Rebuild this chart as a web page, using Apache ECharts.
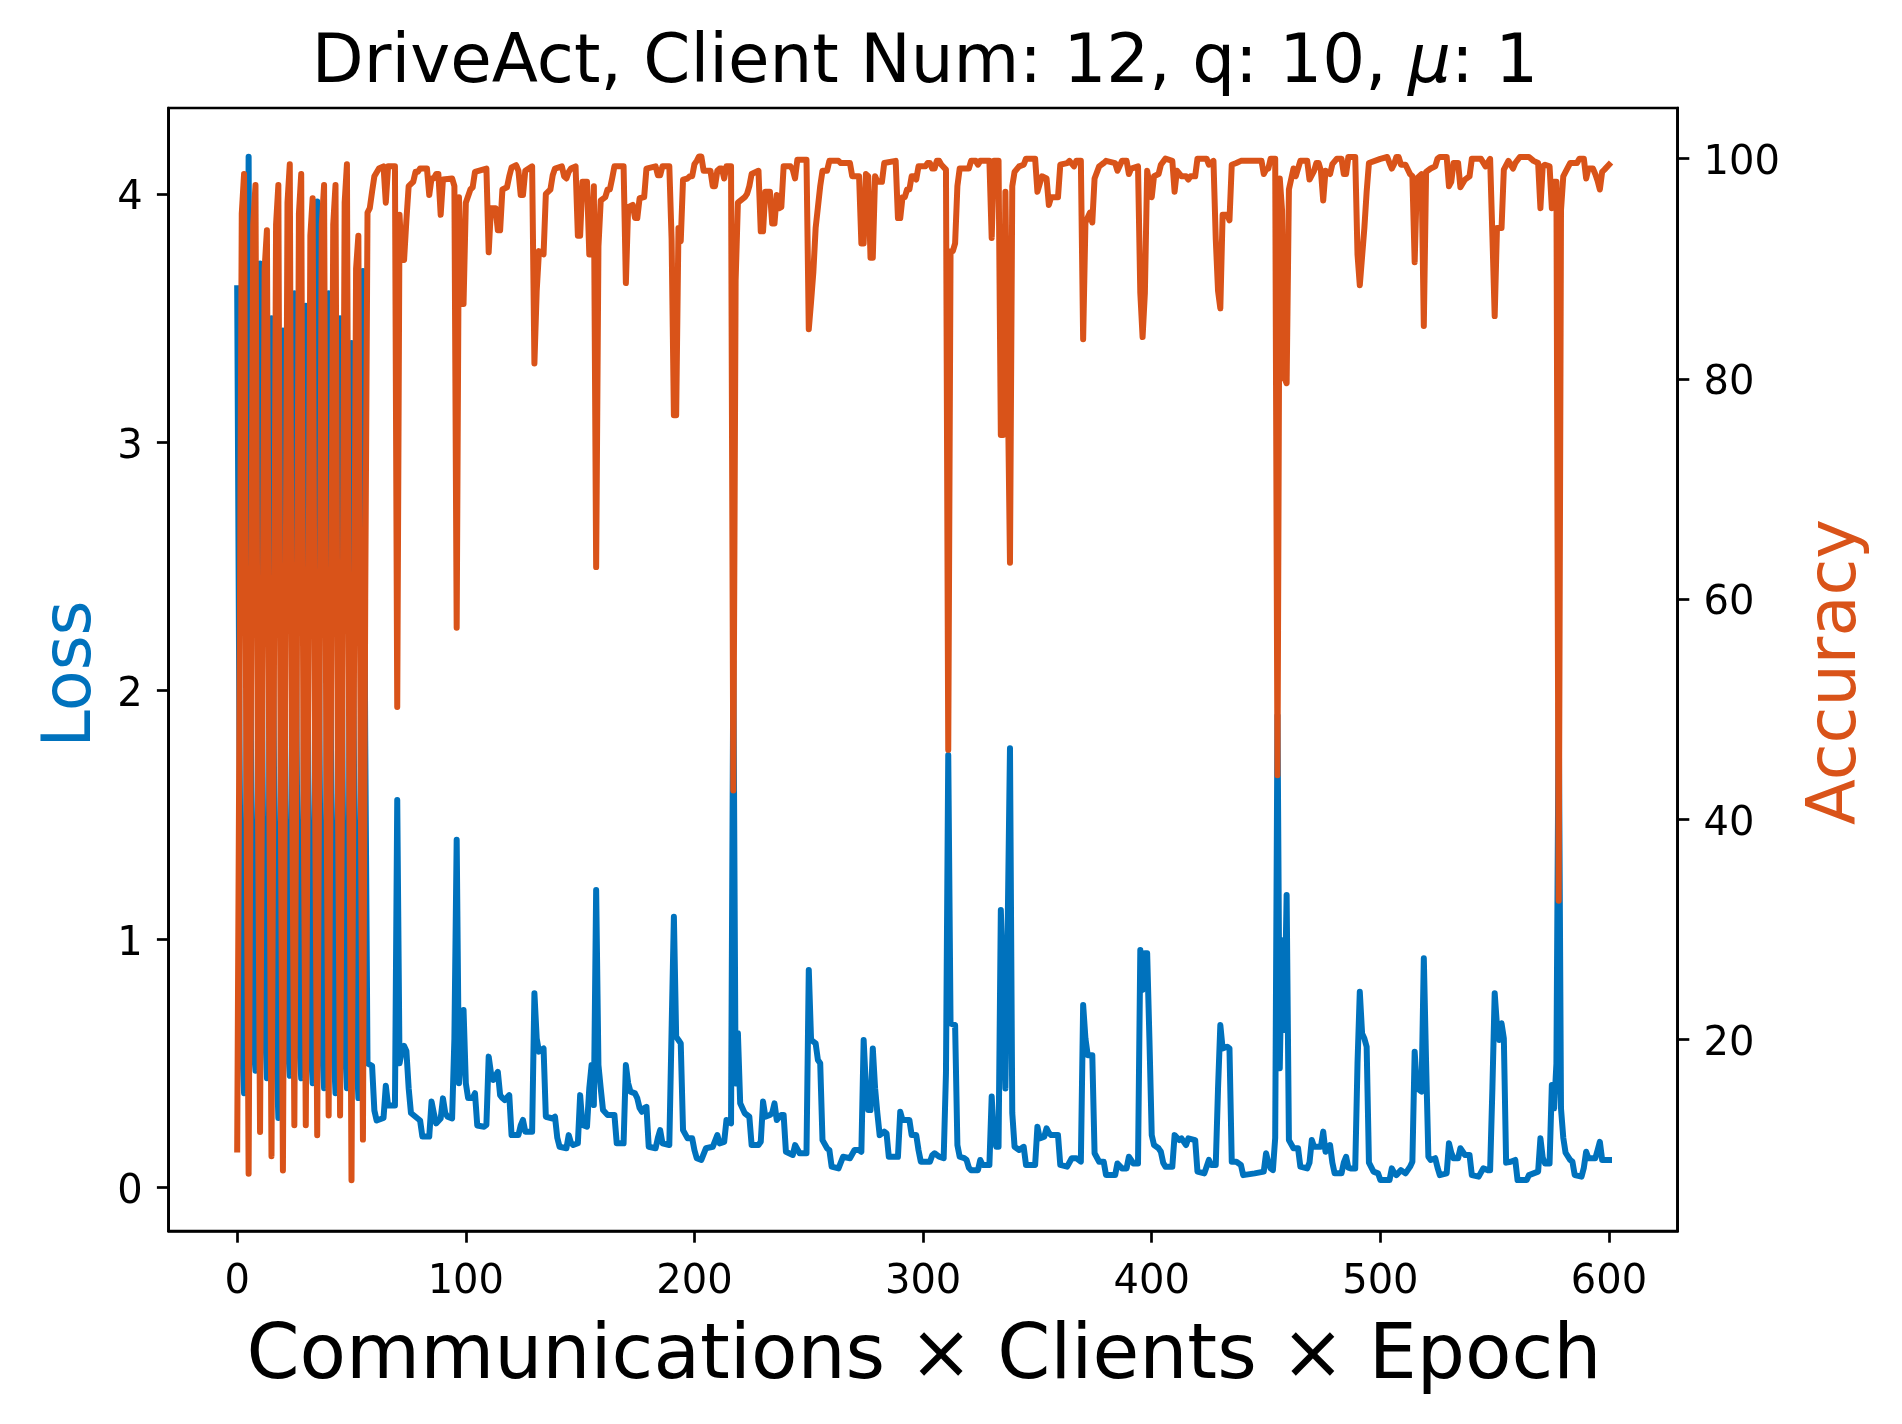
<!DOCTYPE html>
<html>
<head>
<meta charset="utf-8">
<script src="https://cdn.jsdelivr.net/npm/echarts@6/dist/echarts.min.js"></script>
<style>html,body{margin:0;padding:0;background:#fff}#c{width:1902px;height:1424px}</style>
</head>
<body>
<div id="c"></div>
<script>
// ---- data ----
const titleText = 'DriveAct, Client Num: 12, q: 10, {mu|μ}: 1';
const xName = 'Communications × Clients × Epoch';
const lossName = 'Loss';
const accName = 'Accuracy';
const xTicks = [0, 100, 200, 300, 400, 500, 600];
const lossTicks = [0, 1, 2, 3, 4];
const accTicks = [20, 40, 60, 80, 100];

// [step, loss]
const lossReadings = [
[0,3.62],[1,1.8],[2,0.6],[3,0.38],[4,1.6],
[5,4.15],[6,1.8],[7,0.6],[8,0.47],[9,1.6],
[10,3.72],[11,1.8],[12,0.7],[13,0.44],[14,1.6],
[15,3.5],[16,1.8],[17,0.6],[18,0.28],[19,1.6],
[20,3.45],[21,1.8],[22,0.6],[23,0.45],[24,1.6],
[25,3.6],[26,1.8],[27,0.6],[28,0.44],[29,1.6],
[30,3.55],[31,1.8],[32,0.6],[33,0.42],[34,1.6],
[35,3.97],[36,1.8],[37,0.6],[38,0.40],[39,1.6],
[40,3.6],[41,1.8],[42,0.6],[43,0.38],[44,1.6],
[45,3.5],[46,1.8],[47,0.6],[48,0.40],[49,1.6],
[50,3.4],[51,1.8],[52,0.6],[53,0.36],[54,1.6],
[55,3.69],[56,1.8],[57,0.50],[59,0.49],[60,0.31],[61,0.27],[64,0.28],[65,0.41],[66,0.33],[69,0.33],
[70,1.56],[71,0.50],[72,0.55],[73,0.57],[74,0.55],[75,0.40],[76,0.30],[78,0.285],[80,0.27],[81,0.205],
[84,0.205],[85,0.346],[86,0.30],[87,0.258],[89,0.278],[90,0.359],[91,0.30],[92,0.285],[94,0.278],[95,0.6],
[96,1.40],[97,0.42],[98,0.55],[99,0.715],[100,0.42],[101,0.36],[103,0.36],[104,0.38],[105,0.25],[108,0.245],
[109,0.252],[110,0.527],[111,0.46],[112,0.433],[113,0.45],[114,0.466],[115,0.372],[116,0.36],[117,0.352],[119,0.372],
[120,0.211],[123,0.211],[124,0.25],[125,0.272],[126,0.225],[129,0.225],[130,0.782],[131,0.60],[132,0.547],[134,0.56],
[135,0.285],[138,0.278],[139,0.285],[140,0.2],[141,0.164],[144,0.158],[145,0.211],[146,0.18],[147,0.171],[149,0.178],
[150,0.372],[151,0.252],[153,0.245],[154,0.40],[155,0.493],[156,0.332],[157,1.198],[158,0.493],[159,0.40],[160,0.312],
[162,0.292],[165,0.292],[166,0.178],[169,0.178],[170,0.493],[171,0.42],[172,0.386],[174,0.379],[175,0.359],[176,0.32],
[177,0.305],[178,0.32],[179,0.325],[180,0.164],[183,0.158],[184,0.2],[185,0.231],[186,0.178],[189,0.171],[190,0.634],
[191,1.090],[192,0.607],[193,0.594],[194,0.580],[195,0.231],[197,0.198],[199,0.198],[200,0.15],[201,0.118],[203,0.111],
[205,0.158],[208,0.164],[210,0.211],[211,0.178],[213,0.184],[214,0.272],[216,0.258],[217,2.12],[218,0.419],[219,0.621],
[220,0.339],[222,0.299],[224,0.285],[225,0.171],[228,0.171],[229,0.184],[230,0.346],[231,0.285],[233,0.292],[234,0.3],
[235,0.339],[236,0.272],[238,0.292],[239,0.292],[240,0.144],[243,0.131],[244,0.171],[246,0.138],[249,0.138],[250,0.876],
[251,0.594],[253,0.580],[254,0.513],[255,0.500],[256,0.191],[258,0.158],[259,0.151],[260,0.084],[263,0.077],[265,0.124],
[268,0.118],[270,0.151],[272,0.151],[273,0.144],[274,0.594],[275,0.4],[276,0.312],[277,0.312],[278,0.560],[279,0.4],
[280,0.299],[281,0.211],[283,0.225],[284,0.218],[285,0.124],[289,0.124],[290,0.305],[291,0.272],[294,0.272],[295,0.211],
[297,0.211],[298,0.15],[299,0.104],[303,0.104],[304,0.13],[305,0.138],[307,0.124],[309,0.118],[310,0.460],[311,1.741],
[312,0.661],[314,0.654],[315,0.171],[316,0.124],[318,0.118],[319,0.111],[320,0.08],[321,0.070],[324,0.070],[325,0.111],
[326,0.091],[329,0.091],[330,0.366],[331,0.2],[332,0.164],[333,0.164],[334,1.117],[335,0.8],[336,0.399],[337,1.05],
[338,1.768],[339,0.3],[340,0.164],[342,0.151],[344,0.164],[345,0.091],[349,0.091],[350,0.245],[351,0.198],[353,0.205],
[354,0.238],[355,0.22],[356,0.211],[359,0.211],[360,0.091],[363,0.084],[365,0.118],[367,0.118],[369,0.104],[370,0.735],
[371,0.6],[372,0.533],[374,0.533],[375,0.138],[377,0.104],[379,0.104],[380,0.050],[384,0.050],[385,0.097],[387,0.077],
[389,0.077],[390,0.124],[392,0.097],[394,0.097],[395,0.956],[396,0.795],[397,0.943],[398,0.943],[399,0.594],[400,0.211],
[401,0.171],[403,0.158],[404,0.144],[405,0.1],[406,0.084],[409,0.084],[410,0.211],[412,0.191],[413,0.198],[415,0.171],
[416,0.198],[419,0.191],[420,0.064],[423,0.057],[425,0.111],[426,0.091],[428,0.091],[429,0.4],[430,0.654],[431,0.560],
[433,0.567],[434,0.56],[435,0.104],[437,0.104],[439,0.091],[440,0.050],[445,0.057],[449,0.064],[450,0.138],[451,0.1],
[452,0.077],[453,0.07],[454,0.2],[455,1.9],[456,0.48],[457,0.996],[458,0.634],[459,1.178],[460,0.191],[462,0.158],
[464,0.158],[465,0.084],[468,0.077],[469,0.1],[470,0.191],[471,0.164],[474,0.164],[475,0.225],[476,0.144],[478,0.171],
[479,0.1],[480,0.057],[483,0.057],[484,0.1],[485,0.124],[486,0.08],[487,0.077],[489,0.077],[490,0.5],[491,0.788],
[492,0.62],[493,0.6],[494,0.567],[495,0.1],[497,0.064],[499,0.057],[500,0.030],[504,0.030],[505,0.077],[506,0.06],
[507,0.050],[509,0.070],[511,0.057],[513,0.084],[514,0.104],[515,0.547],[516,0.40],[518,0.386],[519,0.923],[520,0.5],
[521,0.124],[522,0.111],[524,0.118],[525,0.08],[526,0.050],[529,0.057],[530,0.178],[531,0.14],[532,0.118],[534,0.118],
[535,0.158],[537,0.131],[539,0.131],[540,0.050],[543,0.044],[545,0.077],[547,0.070],[548,0.070],[549,0.4],[550,0.782],
[551,0.65],[552,0.594],[553,0.661],[554,0.6],[555,0.10],[557,0.104],[559,0.111],[560,0.030],[564,0.030],[565,0.050],
[567,0.057],[569,0.064],[570,0.198],[571,0.12],[572,0.097],[574,0.097],[575,0.413],[576,0.319],[577,0.5],[578,1.95],
[579,0.318],[580,0.2],[581,0.14],[583,0.111],[584,0.104],[585,0.05],[588,0.044],[589,0.08],[590,0.144],[591,0.118],
[594,0.118],[595,0.15],[596,0.184],[597,0.111],[600,0.111]
];

// [step, accuracy]
const accuracyReadings = [
[0,10.0],[1,50],[2,95],[3,98.6],[4,45],
[5,7.8],[6,50],[7,94],[8,97.6],[9,45],
[10,11.6],[11,50],[12,90],[13,93.5],[14,45],
[15,9.4],[16,50],[17,94],[18,97.6],[19,45],
[20,8.1],[21,50],[22,96],[23,99.5],[24,45],
[25,12.2],[26,50],[27,95],[28,98.6],[29,45],
[30,12.2],[31,50],[32,93],[33,96.4],[34,45],
[35,11.3],[36,50],[37,94],[38,97.6],[39,45],
[40,13.1],[41,50],[42,94],[43,97.6],[44,45],
[45,13.1],[46,50],[47,96],[48,99.5],[49,45],
[50,7.2],[51,50],[52,90],[53,93.0],[54,45],
[55,10.9],[56,60],[57,95.1],[58,95.5],[59,97],[60,98.4],[62,99.1],[64,99.3],[65,96.0],[66,99.3],
[69,99.3],[70,50.2],[71,94.9],[72,90.8],[73,90.8],[74,94.4],[75,97.5],[77,97.9],[78,98.8],[79,98.8],
[80,99.1],[83,99.1],[84,96.7],[85,98.2],[86,98.2],[87,98.6],[88,98.6],[89,94.9],[90,98.1],[94,98.2],
[95,97.5],[96,57.4],[97,96.5],[98,86.8],[99,86.8],[100,96.0],[102,97.2],[103,97.4],[104,98.8],[109,99.1],
[110,91.5],[111,95.5],[113,95.5],[114,93.5],[115,93.5],[116,97.2],[118,97.4],[119,98.4],[120,99.2],[122,99.4],
[123,98.9],[124,96.7],[125,96.7],[126,98.9],[129,99.3],[130,81.4],[131,88],[132,91.6],[134,91.3],[135,96.8],
[137,97.2],[138,98.5],[139,99.1],[142,99.3],[143,98.4],[144,98.2],[145,98.8],[146,99.1],[148,99.3],[149,93.0],
[150,93.0],[151,97.9],[153,97.9],[154,91.3],[155,91.3],[156,97.5],[157,62.9],[158,92],[159,96.2],[161,96.5],
[162,97.2],[163,97.2],[164,98.2],[165,99.3],[169,99.3],[170,88.7],[171,95.6],[173,95.8],[174,94.6],[175,94.6],
[176,96.4],[178,96.5],[179,99.1],[183,99.3],[184,98.5],[185,98.5],[186,99.3],[189,99.3],[190,92.7],[191,76.7],
[192,76.7],[193,93.7],[194,92.5],[195,98.1],[197,98.2],[198,98.4],[199,98.4],[200,99.5],[201,99.8],[202,100.2],
[203,100.2],[204,98.9],[207,98.9],[208,97.5],[209,97.5],[210,98.9],[211,99.1],[212,99.1],[213,98.2],[214,99.3],
[216,99.3],[217,42.6],[218,88.9],[219,96.0],[222,96.5],[223,96.8],[224,97.5],[225,98.6],[228,98.9],[229,93.4],
[230,93.4],[231,97.0],[233,97.0],[234,94.1],[235,94.1],[236,96.7],[237,95.5],[238,95.6],[239,99.3],[242,99.3],
[243,99.0],[244,98.2],[245,99.9],[249,99.9],[250,84.5],[251,87],[252,89.7],[253,93.7],[254,95.6],[255,97.5],
[256,98.9],[258,98.9],[259,99.8],[263,99.8],[264,99.6],[268,99.6],[269,98.4],[272,98.4],[273,92.3],[274,92.3],
[275,98.6],[276,98.4],[277,91.0],[278,91.0],[279,98.4],[280,97.9],[282,97.9],[283,99.6],[288,99.8],[289,94.6],
[290,94.6],[291,96.5],[292,96.5],[293,97.2],[294,97.2],[295,98.4],[296,98.4],[297,98.1],[298,99.3],[301,99.3],
[302,99.6],[303,99.6],[304,99.1],[305,99.1],[306,99.8],[307,99.8],[308,99.45],[310,99.0],[311,46.3],[312,91.6],
[313,91.6],[314,92.3],[315,97.5],[316,99.1],[320,99.1],[321,99.8],[323,99.8],[324,99.45],[325,99.8],[329,99.8],
[330,92.8],[331,99.8],[333,99.8],[334,74.9],[335,74.9],[336,97.0],[337,80],[338,63.3],[339,97.5],[340,98.8],
[342,99.3],[344,99.45],[345,100.0],[349,100.0],[350,97.0],[351,97.7],[352,98.4],[354,98.2],[355,95.8],[356,96.5],
[359,96.5],[360,99.45],[363,99.6],[364,99.8],[366,99.3],[367,99.8],[369,99.8],[370,83.6],[371,94.2],[373,95.1],
[374,94.2],[375,98.2],[377,99.3],[379,99.6],[380,99.8],[384,99.6],[385,98.9],[387,99.8],[389,99.8],[390,98.6],
[391,99.1],[394,99.3],[395,87.8],[396,83.8],[397,87.8],[398,98.9],[400,96.5],[401,98.4],[403,98.6],[404,99.45],
[406,100.0],[409,99.8],[410,97.0],[411,98.9],[413,98.4],[415,98.4],[416,98.1],[417,98.4],[419,98.4],[420,100.0],
[424,100.0],[425,99.45],[427,99.8],[428,92.7],[429,88],[430,86.4],[431,94.9],[433,94.9],[434,94.4],[435,99.45],
[437,99.6],[439,99.8],[448,99.8],[449,98.6],[450,99.0],[451,99.1],[452,100.0],[454,100.0],[455,44.0],[456,98.2],
[457,95.3],[458,80.1],[459,79.6],[460,97.2],[462,99.1],[463,98.4],[465,99.8],[468,99.8],[469,98.1],[471,98.9],
[472,99.6],[473,99.6],[474,98.9],[475,96.2],[476,98.9],[478,98.6],[479,99.5],[481,100.0],[483,100.0],[484,98.6],
[485,98.6],[486,100.15],[489,100.15],[490,91.3],[491,88.5],[493,93.7],[494,97],[495,99.6],[500,99.98],[503,100.15],
[504,99.6],[505,99.1],[506,99.5],[507,100.15],[508,100.15],[509,99.45],[511,99.45],[513,98.6],[514,98.4],[515,90.6],
[516,98.2],[518,98.6],[519,84.8],[520,98.8],[522,99.1],[524,99.3],[525,100.0],[526,100.15],[529,100.15],[530,97.5],
[531,97.9],[532,99.6],[534,99.6],[535,97.4],[537,98.1],[539,98.4],[540,99.98],[544,99.98],[546,99.3],[548,99.98],
[549,93.0],[550,85.7],[551,93.7],[553,93.7],[554,99.0],[556,99.8],[558,99.1],[559,99.6],[561,100.15],[565,100.15],
[567,99.8],[569,99.6],[570,95.5],[571,99.3],[572,99.45],[574,99.3],[575,95.5],[576,97.9],[577,97.9],[578,32.6],
[579,95.3],[580,98.4],[581,98.8],[583,99.6],[586,99.6],[587,99.98],[589,99.98],[590,98.2],[591,99.1],[593,99.1],
[594,98.6],[595,98.0],[596,97.2],[597,98.8],[598,99.0],[600,99.45]
];

// ---- chart ----
const FONT = 'DejaVu Sans';
const BLUE = '#0072BD';
const ORANGE = '#D95319';
const gL = 168.6, gT = 108, gR = 1677.6, gB = 1231;

const chart = echarts.init(document.getElementById('c'), null, {renderer: 'canvas', width: 1902, height: 1424});

function yAxisCfg(min, max, ticks, pos) {
  return {
    type: 'value', min: min, max: max, position: pos,
    splitLine: {show: false},
    axisLine: {show: true, onZero: false, lineStyle: {color: '#000', width: 2.7}},
    axisTick: {show: true, customValues: ticks, length: 11.7, inside: false, lineStyle: {color: '#000', width: 2.7}},
    axisLabel: {customValues: ticks, fontFamily: FONT, fontSize: 40, color: '#000', margin: 26,
                verticalAlign: 'top', lineHeight: 10}
  };
}

const option = {
  animation: false,
  backgroundColor: '#ffffff',
  grid: {left: gL, top: gT, width: gR - gL, height: gB - gT, show: true,
         borderColor: '#000', borderWidth: 2.7, backgroundColor: 'transparent', containLabel: false},
  xAxis: {
    type: 'value', min: -30, max: 630,
    splitLine: {show: false},
    axisLine: {show: true, onZero: false, lineStyle: {color: '#000', width: 2.7}},
    axisTick: {show: true, customValues: xTicks, length: 11.7, inside: false, lineStyle: {color: '#000', width: 2.7}},
    axisLabel: {customValues: xTicks, fontFamily: FONT, fontSize: 40, color: '#000', margin: 32}
  },
  yAxis: [
    yAxisCfg(-0.175, 4.346, lossTicks, 'left'),
    yAxisCfg(2.6, 104.6, accTicks, 'right')
  ],
  series: [
    {type: 'line', name: lossName, yAxisIndex: 0, data: lossReadings, showSymbol: false, symbol: 'none',
     lineStyle: {color: BLUE, width: 6, join: 'round', cap: 'square'}, z: 2},
    {type: 'line', name: accName, yAxisIndex: 1, data: accuracyReadings, showSymbol: false, symbol: 'none',
     lineStyle: {color: ORANGE, width: 6, join: 'round', cap: 'square'}, z: 3}
  ],
  graphic: [
    {type: 'text', x: 925, y: 64, style: {text: titleText, fontFamily: FONT, fontSize: 67.5, fill: '#000',
      align: 'center', verticalAlign: 'middle',
      rich: {mu: {fontFamily: FONT, fontSize: 67.5, fontStyle: 'italic', fill: '#000'}}}},
    {type: 'text', x: 924, y: 1358, style: {text: xName, fontFamily: FONT, fontSize: 76, fill: '#000',
      align: 'center', verticalAlign: 'middle'}},
    {type: 'text', x: 73, y: 674, rotation: Math.PI / 2, style: {text: lossName, fontFamily: FONT, fontSize: 67,
      fill: BLUE, align: 'center', verticalAlign: 'middle'}},
    {type: 'text', x: 1838, y: 672, rotation: Math.PI / 2, style: {text: accName, fontFamily: FONT, fontSize: 67,
      fill: ORANGE, align: 'center', verticalAlign: 'middle'}}
  ]
};
chart.setOption(option);
</script>
</body>
</html>
